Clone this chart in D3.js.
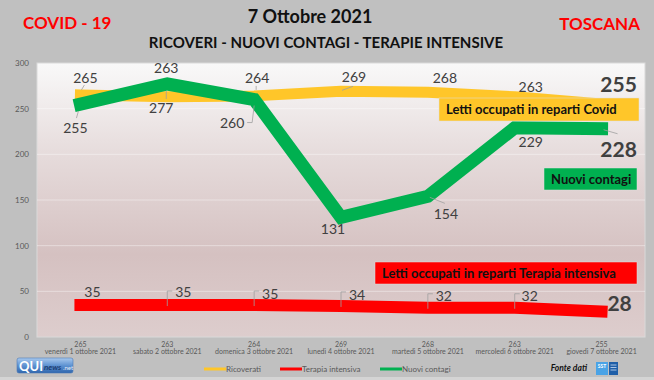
<!DOCTYPE html>
<html><head><meta charset="utf-8">
<script src="https://cdn.jsdelivr.net/npm/d3@7"></script>
<style>
html,body{margin:0;padding:0;background:#c0c0c0;}
svg{display:block;font-family:Lato,"Open Sans",sans-serif;}
</style></head>
<body>
<svg id="chart" width="654" height="380"></svg>
<script>
// ---- data ----
const categories = ["venerdì 1 ottobre 2021","sabato 2 ottobre 2021","domenica 3 ottobre 2021","lunedì 4 ottobre 2021","martedì 5 ottobre 2021","mercoledì 6 ottobre 2021","giovedì 7 ottobre 2021"];
const ricoverati = [265,263,264,269,268,263,255];
const terapiaIntensiva = [35,35,35,34,32,32,28];
const nuoviContagi = [255,277,260,131,154,229,228];
const yTicks = [0,50,100,150,200,250,300];
const seriesNames = ["Ricoverati","Terapia intensiva","Nuovi contagi"];

// ---- layout (label offsets relative to points) ----
const yellowOff = [[5,-12],[-1,-24],[3,-13],[13,-9],[17,-9],[16,-5],[17,-12]];
const greenOff  = [[-5,29],[-6,29],[-22,28],[-8,17],[18,23],[16,19],[17,28]];
const redOff    = [[12,-8],[16,-8],[16,-6],[16,-6],[16,-7],[15,-7],[18,0]];

const C = {yellow:"#ffc629", green:"#00b050", red:"#ff0000", label:"#404040", axis:"#595959"};
const svg = d3.select("#chart");
const plot = {left:37, right:645, top:63, bottom:337};

const x = d3.scaleBand().domain(categories).range([plot.left, plot.right]).padding(0);
const xc = d => x(d) + x.bandwidth()/2;
const y = d3.scaleLinear().domain([0,300]).range([plot.bottom, plot.top]);

// background
svg.append("rect").attr("width",654).attr("height",380).attr("fill","#c0c0c0");
svg.append("rect").attr("x",0).attr("y",377).attr("width",654).attr("height",3).attr("fill","#d4d4d4");

const defs = svg.append("defs");
const g1 = defs.append("linearGradient").attr("id","pbg").attr("x1",0).attr("x2",0).attr("y1",0).attr("y2",1);
[[0,"#f9f9f9"],[0.35,"#e5dada"],[0.7,"#d5c1c1"],[1,"#ddcdcd"]].forEach(s=>g1.append("stop").attr("offset",s[0]).attr("stop-color",s[1]));
const g2 = defs.append("linearGradient").attr("id","qui").attr("x1",0).attr("x2",0).attr("y1",0).attr("y2",1);
[[0,"#a9c9ee"],[0.5,"#5f93d2"],[1,"#2f66ad"]].forEach(s=>g2.append("stop").attr("offset",s[0]).attr("stop-color",s[1]));

svg.append("rect").attr("x",plot.left).attr("y",plot.top).attr("width",plot.right-plot.left).attr("height",plot.bottom-plot.top)
  .attr("fill","url(#pbg)").attr("stroke","#d9d9d9").attr("stroke-width",1);

// gridlines
svg.append("g").selectAll("line").data(yTicks.filter(t=>t>0 && t<300)).join("line")
  .attr("x1",plot.left).attr("x2",plot.right).attr("y1",d=>y(d)).attr("y2",d=>y(d))
  .attr("stroke","#ffffff").attr("stroke-opacity",0.4).attr("stroke-width",1);

// y axis
const yAxis = svg.append("g").attr("transform",`translate(${plot.left-8},0)`)
  .call(d3.axisLeft(y).tickValues(yTicks).tickSize(0).tickPadding(0));
yAxis.select(".domain").remove();
yAxis.selectAll("text").attr("fill",C.axis).attr("font-size",8).attr("font-family","Lato,sans-serif");

// x axis (two-level labels)
const xAxis = svg.append("g").attr("transform",`translate(0,${plot.bottom})`)
  .call(d3.axisBottom(x).tickSize(0).tickFormat(()=>""));
xAxis.select(".domain").remove();
xAxis.selectAll(".tick text").each(function(d,i){
  const t = d3.select(this).attr("fill",C.axis).attr("font-size",7).attr("font-family","Lato,sans-serif").attr("y",0).attr("dy",null);
  t.append("tspan").attr("x",0).attr("y",10).text(ricoverati[i]);
  t.append("tspan").attr("x",0).attr("y",17).text(d);
});

// lines
const line = vals => d3.line().x((d,i)=>xc(categories[i])).y(d=>y(d))(vals);
svg.append("path").attr("d",line(ricoverati)).attr("fill","none").attr("stroke",C.yellow).attr("stroke-width",11).attr("stroke-linecap","square").attr("stroke-linejoin","round");
svg.append("path").attr("d",line(terapiaIntensiva)).attr("fill","none").attr("stroke",C.red).attr("stroke-width",12).attr("stroke-linecap","square").attr("stroke-linejoin","round");
svg.append("path").attr("d",line(nuoviContagi)).attr("fill","none").attr("stroke",C.green).attr("stroke-width",13).attr("stroke-linecap","square").attr("stroke-linejoin","miter");

// leader lines
const P = (arr,i)=>[xc(categories[i]), y(arr[i])];
const leaders = [];
{ let [px,py]=P(ricoverati,0); leaders.push(`M${px+1},${py-5}L${px+4},${py-10}`); }
{ let [px,py]=P(nuoviContagi,0); leaders.push(`M${px-2},${py+7}L${px-4},${py+14}`); }
{ let [px,py]=P(nuoviContagi,1); leaders.push(`M${px-1},${py+7}L${px-1},${py+15}`); }
{ let [px,py]=P(ricoverati,2); leaders.push(`M${px+2},${py-6}L${px+2},${py-10}`); }
{ let [px,py]=P(nuoviContagi,2); leaders.push(`M${px},${py+6}L${px-2},${py+23}L${px-7},${py+23}`); }
{ let [px,py]=P(ricoverati,3); leaders.push(`M${px+1},${py-1}L${px+12},${py-5}`); }
{ let [px,py]=P(nuoviContagi,4); leaders.push(`M${px+2},${py+1}L${px+17},${py+7}`); }
{ let [px,py]=P(nuoviContagi,6); leaders.push(`M${px+2},${py+1}L${px+16},${py+5}`); }
for (let i=1;i<6;i++){ let [px,py]=P(terapiaIntensiva,i); leaders.push(`M${px},${py+1}V${py-14}H${px+5}`); }
svg.append("g").selectAll("path").data(leaders).join("path").attr("d",d=>d)
  .attr("fill","none").attr("stroke","#a0a0a0").attr("stroke-width",0.8);

// data labels
function labels(vals, offs){
  svg.append("g").selectAll("text").data(vals).join("text")
    .attr("x",(d,i)=>xc(categories[i])+offs[i][0])
    .attr("y",(d,i)=>y(d)+offs[i][1])
    .attr("text-anchor","middle")
    .attr("fill",C.label)
    .attr("font-size",(d,i)=>i===vals.length-1?21:14)
    .attr("font-weight",(d,i)=>i===vals.length-1?"bold":"normal")
    .text(d=>d);
}
labels(ricoverati, yellowOff);
labels(nuoviContagi, greenOff);
labels(terapiaIntensiva, redOff);

// annotation boxes
const boxes = [
  {x:439,y:98,w:200,h:23,fill:C.yellow,text:"Letti occupati in reparti Covid",tx:446,ty:114},
  {x:544,y:168,w:93,h:22,fill:C.green,text:"Nuovi contagi",tx:551,ty:184},
  {x:375,y:262,w:262,h:22,fill:C.red,text:"Letti occupati in reparti Terapia intensiva",tx:382,ty:278}
];
const bg = svg.append("g");
boxes.forEach(b=>{
  bg.append("rect").attr("x",b.x).attr("y",b.y).attr("width",b.w).attr("height",b.h).attr("fill",b.fill).attr("stroke","#e0e0e0").attr("stroke-width",0.5);
  bg.append("text").attr("x",b.tx).attr("y",b.ty).attr("font-size",13).attr("font-weight","bold").attr("fill","#111").text(b.text);
});

// titles
svg.append("text").attr("x",23).attr("y",29).attr("font-size",17).attr("font-weight","bold").attr("fill","#ff0000").text("COVID - 19");
svg.append("text").attr("x",640).attr("y",30).attr("text-anchor","end").attr("font-size",17).attr("font-weight","bold").attr("fill","#ff0000").text("TOSCANA");
svg.append("text").attr("x",310).attr("y",23).attr("text-anchor","middle").attr("font-size",18).attr("font-weight","bold").attr("fill","#111").text("7 Ottobre 2021");
svg.append("text").attr("x",326).attr("y",48).attr("text-anchor","middle").attr("font-size",15).attr("font-weight","bold").attr("fill","#111").text("RICOVERI - NUOVI CONTAGI - TERAPIE INTENSIVE");

// legend
const legX = [204,280,380], legCol=[C.yellow,C.red,C.green];
const lg = svg.append("g");
seriesNames.forEach((n,i)=>{
  lg.append("line").attr("x1",legX[i]).attr("x2",legX[i]+22).attr("y1",369).attr("y2",369).attr("stroke",legCol[i]).attr("stroke-width",3);
  lg.append("text").attr("x",legX[i]+22).attr("y",372).attr("font-size",8).attr("fill",C.axis).text(n);
});

// source / logos
svg.append("text").attr("x",587).attr("y",371).attr("text-anchor","end").attr("font-size",8.5).attr("font-weight","bold").attr("font-style","italic").attr("fill","#111").text("Fonte dati");
svg.append("rect").attr("x",596).attr("y",362).attr("width",12).attr("height",13).attr("fill","#4aa3e6");
svg.append("text").attr("x",602).attr("y",368).attr("text-anchor","middle").attr("font-size",5).attr("font-weight","bold").attr("fill","#fff").text("SST");
svg.append("rect").attr("x",609).attr("y",362).attr("width",9).attr("height",13).attr("fill","#1f5fa8");
[365,367.5,370].forEach(yy=>svg.append("line").attr("x1",610.5).attr("x2",616.5).attr("y1",yy).attr("y2",yy).attr("stroke","#cfe0f5").attr("stroke-width",0.8));

svg.append("rect").attr("x",17).attr("y",358).attr("width",56).attr("height",15).attr("rx",2).attr("fill","url(#qui)").attr("stroke","#4a78b5").attr("stroke-width",0.6);
svg.append("text").attr("x",19).attr("y",371).attr("font-size",13).attr("font-weight","bold").attr("fill","#fff").text("QUI");
svg.append("text").attr("x",44).attr("y",370).attr("font-size",8).attr("font-weight","bold").attr("font-style","italic").attr("fill","#1d3d70").text("news");
svg.append("text").attr("x",63).attr("y",370).attr("font-size",6).attr("fill","#e8f0fa").text(".net");
</script>
</body></html>
